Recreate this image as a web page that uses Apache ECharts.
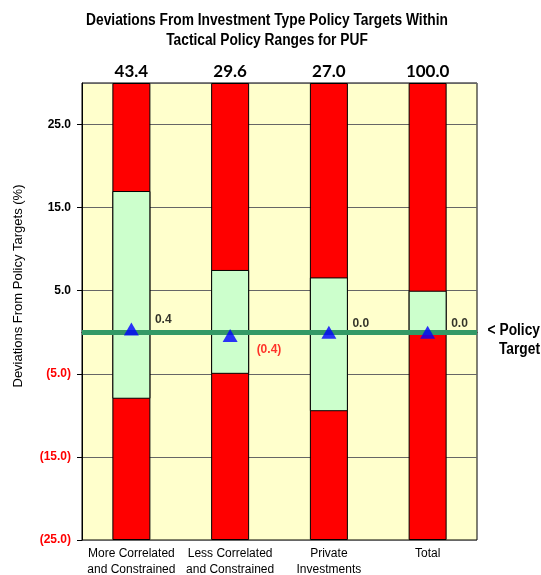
<!DOCTYPE html>
<html>
<head>
<meta charset="utf-8">
<script src="https://cdn.jsdelivr.net/npm/echarts@6/dist/echarts.min.js"></script>
<style>html,body{margin:0;padding:0;background:#fff}#c{width:541px;height:575px}</style>
</head>
<body>
<div id="c"></div>
<script>
var categories = ['More Correlated\nand Constrained', 'Less Correlated\nand Constrained', 'Private\nInvestments', 'Total'];
var rangeLow = [-8.0, -5.0, -9.5, 0.0];
var rangeHigh = [17.0, 7.5, 6.6, 5.0];
var deviation = [0.4, -0.4, 0.0, 0.0];
var weights = ['43.4', '29.6', '27.0', '100.0'];
var axisMin = -25, axisMax = 30, axisStep = 10;

var FONT = '"Liberation Sans", Arial, sans-serif';
function fmt(v) { return v < 0 ? '(' + (-v).toFixed(1) + ')' : v.toFixed(1); }

var chart = echarts.init(document.getElementById('c'), null, {renderer: 'canvas'});
var BW = 38;
chart.setOption({
  animation: false,
  grid: {left: 82, right: 64, top: 83, bottom: 35, outerBoundsMode: 'none', containLabel: false,
    show: true, backgroundColor: '#FFFFCC', borderColor: '#000', borderWidth: 1},
  xAxis: {
    type: 'category', data: categories,
    axisTick: {show: false},
    axisLine: {lineStyle: {color: '#000'}},
    axisLabel: {interval: 0, hideOverlap: false, fontFamily: FONT, fontSize: 12, color: '#000', lineHeight: 16, margin: 6}
  },
  yAxis: {
    type: 'value', min: axisMin, max: axisMax, interval: axisStep,
    axisLine: {show: true, lineStyle: {color: '#000'}},
    axisTick: {show: true, length: 5, lineStyle: {color: '#000'}},
    splitLine: {show: true, lineStyle: {color: '#666', width: 1}},
    axisLabel: {
      showMaxLabel: false, margin: 11,
      formatter: function (v) { return v < 0 ? '{n|' + fmt(v) + '}' : '{p|' + fmt(v) + '}'; },
      rich: {
        p: {fontFamily: FONT, fontSize: 12, fontWeight: 'bold', color: '#000'},
        n: {fontFamily: FONT, fontSize: 12, fontWeight: 'bold', color: '#FF0000'}
      }
    }
  },
  series: [
    {
      name: 'upper', type: 'bar', barWidth: BW, barGap: '-100%', z: 2,
      data: categories.map(function () { return axisMax; }),
      itemStyle: {color: '#FF0000', borderColor: '#000', borderWidth: 1},
      label: {
        show: true, position: 'top', distance: 3,
        formatter: function (p) { return weights[p.dataIndex]; },
        fontFamily: 'Lato, sans-serif', fontSize: 17, fontWeight: 'bold', color: '#000'
      }
    },
    {
      name: 'lower', type: 'bar', barWidth: BW, barGap: '-100%', z: 2,
      data: categories.map(function () { return axisMin; }),
      itemStyle: {color: '#FF0000', borderColor: '#000', borderWidth: 1}
    },
    {
      name: 'base', type: 'bar', stack: 'range', stackStrategy: 'all', barWidth: BW, barGap: '-100%', z: 3,
      data: rangeLow,
      itemStyle: {color: 'transparent', borderWidth: 0}
    },
    {
      name: 'range', type: 'bar', stack: 'range', stackStrategy: 'all', barWidth: BW, barGap: '-100%', z: 3,
      data: rangeHigh.map(function (h, i) { return +(h - rangeLow[i]).toFixed(2); }),
      itemStyle: {color: '#CCFFCC', borderColor: '#000', borderWidth: 1},
      markLine: {
        silent: true, symbol: 'none', label: {show: false}, z: 4,
        lineStyle: {color: '#339966', width: 5, type: 'solid'},
        data: [{yAxis: 0}]
      }
    },
    {
      name: 'actual', type: 'scatter', symbol: 'triangle', symbolSize: [15, 13], z: 10,
      itemStyle: {color: '#0000FF'},
      data: deviation.map(function (v) {
        return {
          value: v,
          label: {
            show: true, position: 'right',
            offset: v < 0 ? [14, 14] : [11, -9],
            formatter: fmt(v),
            color: v < 0 ? '#FF0000' : '#000',
            fontFamily: FONT, fontSize: 12, fontWeight: 'bold'
          }
        };
      })
    }
  ],
  graphic: [
    {
      type: 'text', x: 267, y: 11, scaleX: 0.86,
      style: {text: 'Deviations From Investment Type Policy Targets Within\nTactical Policy Ranges for PUF',
        align: 'center', font: 'bold 16px ' + FONT, fill: '#000', lineHeight: 20}
    },
    {
      type: 'text', x: 18, y: 286, rotation: Math.PI / 2,
      style: {text: 'Deviations From Policy Targets (%)', align: 'center', verticalAlign: 'middle',
        font: '13px ' + FONT, fill: '#000'}
    },
    {
      type: 'text', x: 540, y: 321, scaleX: 0.86,
      style: {text: '< Policy\nTarget', align: 'right', font: 'bold 16px ' + FONT, fill: '#000', lineHeight: 19}
    }
  ]
});
</script>
</body>
</html>
